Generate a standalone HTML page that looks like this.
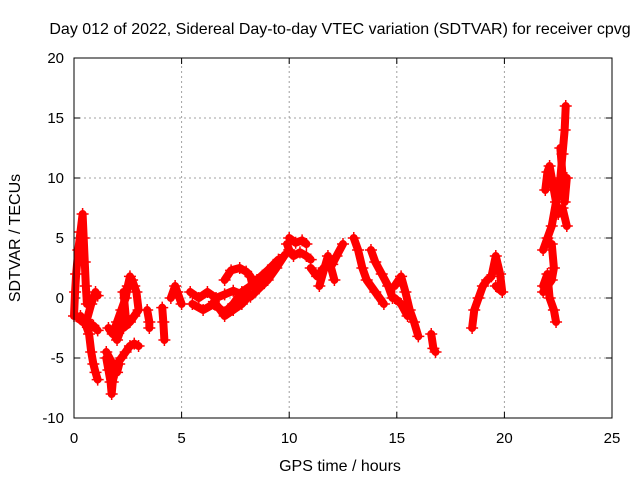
<!DOCTYPE html>
<html><head><meta charset="utf-8"><style>
body{margin:0;background:#fff}
svg{display:block;font-family:"Liberation Sans",sans-serif}
</style></head><body>
<svg id="chart" width="640" height="480">
<text x="340" y="34" font-size="16" text-anchor="middle">Day 012 of 2022, Sidereal Day-to-day VTEC variation (SDTVAR) for receiver cpvg</text>
<text x="340" y="471" font-size="16" text-anchor="middle">GPS time / hours</text>
<text transform="translate(20,238) rotate(-90)" font-size="16" text-anchor="middle">SDTVAR / TECUs</text>
<g id="grid"></g><g id="ticks"></g><g id="marks"></g>
<rect x="74" y="58" width="538" height="360" fill="none" stroke="#000" stroke-width="1"/>
</svg>
<script>
const xTicks=[0,5,10,15,20,25];
const yTicks=[-10,-5,0,5,10,15,20];
const tracks=[
[[0,-1.5],[0.05,0.5],[0.1,2],[0.2,4],[0.3,5.5],[0.4,7],[0.45,5],[0.5,3],[0.55,1],[0.6,-0.5]],
[[0.3,-1.5],[0.5,-2],[0.7,-3],[0.8,-4.5],[0.9,-5.5],[1.0,-6.2],[1.1,-6.8]],
[[0.1,-1.5],[0.4,-2],[0.6,-1.8],[0.8,-0.5],[1.0,0.5],[1.1,0.2]],
[[0.6,-2],[0.9,-2.3],[1.1,-2.7]],
[[1.5,-5],[1.6,-6],[1.7,-7],[1.75,-8],[1.8,-7],[1.9,-6],[2.0,-5.5],[2.2,-5],[2.4,-4.5],[2.6,-4],[2.8,-3.8],[3.0,-4]],
[[1.5,-4.5],[1.8,-5.5],[2.0,-6.2],[2.1,-5.5]],
[[1.6,-2.5],[1.8,-3],[2.0,-2],[2.2,-1],[2.4,0],[2.5,1],[2.6,1.8],[2.7,1.5],[2.8,1],[2.9,0.5],[3.0,-1],[2.8,-1.5],[2.6,-2],[2.3,-2.5]],
[[1.8,-2.8],[2.0,-3.5],[2.2,-2.5],[2.4,-1.5],[2.3,0.5]],
[[3.4,-1],[3.5,-2],[3.5,-2.5]],
[[4.1,-0.8],[4.15,-2],[4.2,-3.5]],
[[4.5,0],[4.7,1],[4.8,0.5],[5.0,-0.5]],
[[5.4,0.5],[5.8,0],[6.2,0.5],[6.6,0],[7.0,0.3],[7.4,0.6],[7.8,0.3],[8.2,0.1],[8.6,0.8],[9.0,1.5],[9.4,2.5],[9.8,3.6]],
[[5.5,-0.5],[6.0,-1],[6.5,-0.5],[7.0,-1.2],[7.4,-0.5],[7.8,0.5],[8.2,1],[8.5,1.5],[9.0,2.3],[9.5,3.2]],
[[7.0,1.5],[7.3,2.3],[7.7,2.5],[8.0,2.2],[8.2,1.8],[8.3,1]],
[[6.5,-0.3],[6.8,-1],[7.0,-1.5],[7.4,-1],[7.8,-0.5],[8.2,0.3]],
[[9.9,4.5],[10.0,4],[10.2,3.5],[10.5,3.8],[10.8,3.5],[11.0,3.2]],
[[10.0,5],[10.3,4.6],[10.6,4.8],[10.8,4.5]],
[[11.0,2.5],[11.3,1.8],[11.6,2.5],[12.0,2.8],[12.2,3.5],[12.5,4.5]],
[[11.4,1],[11.8,3.5],[12.1,1.5]],
[[13.0,5],[13.2,4],[13.4,2.5],[13.6,1.5],[14.0,0.5],[14.4,-0.5]],
[[13.8,4],[14.0,3],[14.3,2],[14.6,1],[14.8,0]],
[[14.9,1],[15.2,1.8],[15.4,0.5],[15.6,-1],[15.8,-2],[16.0,-3.2]],
[[14.9,0],[15.2,-0.5],[15.5,-1.5]],
[[16.6,-3],[16.7,-4.2],[16.8,-4.5]],
[[18.5,-2.5],[18.6,-1],[18.8,0],[19.0,1],[19.2,1.5],[19.4,1.8],[19.6,3.5],[19.8,2],[19.9,0.5],[19.6,1]],
[[21.8,4],[22.0,5],[22.2,6],[22.4,8],[22.6,10],[22.7,12],[22.8,14],[22.85,16]],
[[21.8,1],[22.0,2],[22.1,0],[22.3,-1],[22.4,-2]],
[[21.9,9],[22.0,10.5],[22.1,11],[22.3,9],[22.5,7],[22.7,7.5],[22.9,6]],
[[22.6,12.5],[22.8,8],[22.9,10]],
[[21.8,0.5],[22.2,1.5],[22.3,2.5],[22.2,4.5]]
];
const NS="http://www.w3.org/2000/svg";
const X0=74,X1=612,Y0=418,Y1=58;
const sx=t=>X0+(t-0)/(25-0)*(X1-X0);
const sy=v=>Y0-(v+10)/(30)*(Y0-Y1);
const grid=document.getElementById('grid'),ticks=document.getElementById('ticks'),marks=document.getElementById('marks');
function mk(tag,attrs,parent){const e=document.createElementNS(NS,tag);for(const k in attrs)e.setAttribute(k,attrs[k]);parent.appendChild(e);return e;}
xTicks.forEach(t=>{const x=sx(t);
 if(t>0&&t<25){const g=mk('line',{x1:x,x2:x,y1:Y0,y2:Y1,stroke:'#a0a0a0','stroke-dasharray':'2,3'},grid);
 
 }
 mk('line',{x1:x,x2:x,y1:Y0,y2:Y0-6,stroke:'#000'},ticks);mk('line',{x1:x,x2:x,y1:Y1,y2:Y1+6,stroke:'#000'},ticks);
 const l=mk('text',{x:x,y:443,'font-size':15,'text-anchor':'middle'},ticks);l.textContent=t;
 
 });
yTicks.forEach(v=>{const y=sy(v);
 if(v>-10&&v<20){const g=mk('line',{x1:X0,x2:X1,y1:y,y2:y,stroke:'#a0a0a0','stroke-dasharray':'2,3'},grid);
 
 }
 mk('line',{x1:X0,x2:X0+6,y1:y,y2:y,stroke:'#000'},ticks);mk('line',{x1:X1,x2:X1-6,y1:y,y2:y,stroke:'#000'},ticks);
 const l=mk('text',{x:64,y:y+5,'font-size':15,'text-anchor':'end'},ticks);l.textContent=v;
 
 });
tracks.forEach((tr,i)=>{
 const pl=mk('polyline',{points:tr.map(p=>sx(p[0])+','+sy(p[1])).join(' '),fill:'none',stroke:'#f00','stroke-width':8,'stroke-linejoin':'round','stroke-linecap':'round'},marks);
 
 
 tr.forEach(p=>{const x=sx(p[0]),y=sy(p[1]);
  const m=mk('path',{d:`M${x-6},${y}H${x+6}M${x},${y-6}V${y+6}`,stroke:'#f00','stroke-width':1.5},marks);
  
  });
});
</script>
</body></html>
